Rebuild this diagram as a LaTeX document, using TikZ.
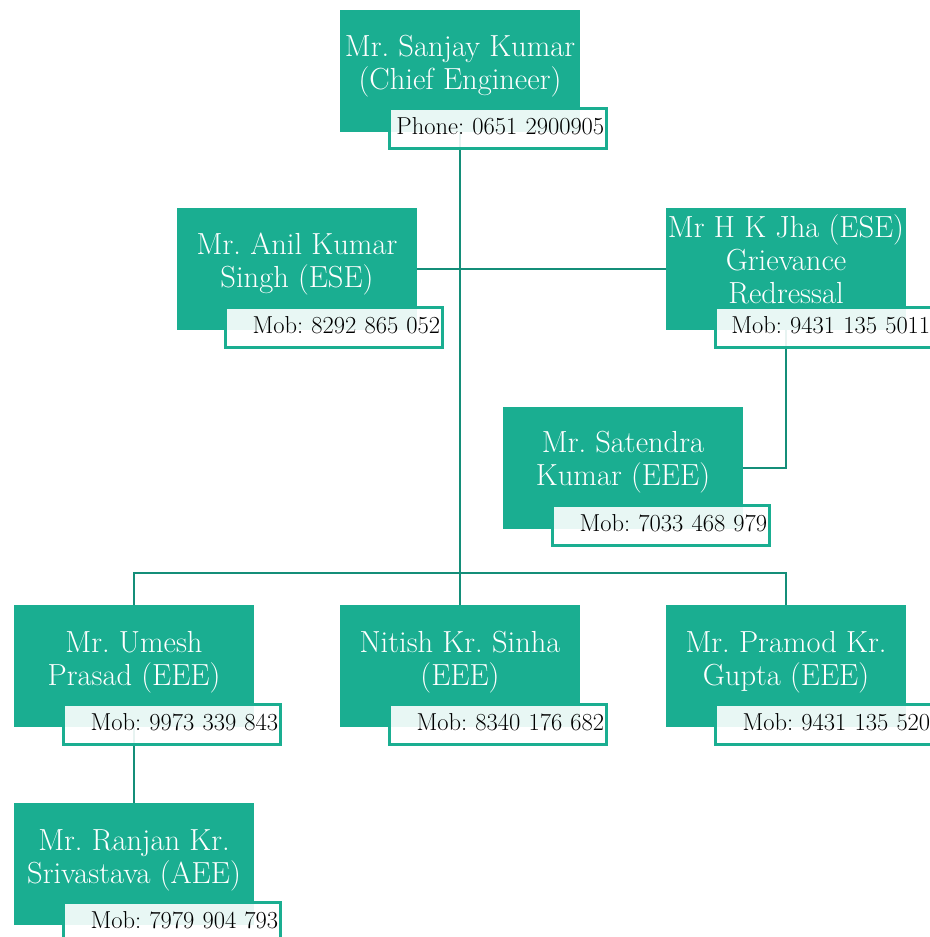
\documentclass[tikz,border=0pt]{standalone}
\definecolor{boxgreen}{HTML}{1AAE91}
\definecolor{linegreen}{HTML}{148E79}
\definecolor{mobedge}{HTML}{1AAE91}
\begin{document}
\frenchspacing
\begin{tikzpicture}[x=1pt,y=-1pt,
 namebox/.style={fill=boxgreen, draw=none, minimum width=240pt, minimum height=122pt, anchor=north west, inner sep=0pt, outer sep=0pt},
 nametext/.style={anchor=base, inner sep=0pt, text=white, font=\fontsize{30.5}{33}\selectfont},
 mobbox/.style={fill=white, fill opacity=0.9, text opacity=1, draw=mobedge, line width=2.5pt, minimum width=217pt, minimum height=40pt, text width=213pt, align=right, inner sep=2pt, text height=18pt, text depth=6pt, anchor=north west, font=\fontsize{24.5}{28}\selectfont},
 conn/.style={draw=linegreen, line width=2.5pt}]
\fill[white] (0,0) rectangle (929,937);
\useasboundingbox (0,0) rectangle (929,937);
% green boxes
\node[namebox] (sk) at (340,10) {};
\node[namebox] (ak) at (177,208) {};
\node[namebox] (jk) at (666,208) {};
\node[namebox] (st) at (503,407) {};
\node[namebox] (uk) at (14,605) {};
\node[namebox] (nk) at (340,605) {};
\node[namebox] (pk) at (666,605) {};
\node[namebox] (rk) at (14,803) {};
% connectors
\coordinate (bus) at (460,573);
\draw[conn] (sk.south) -- (bus);
\draw[conn] (ak.east) -- (jk.west);
\draw[conn] (jk.south) |- (st.east);
\draw[conn] (uk.north) -- (uk.north |- bus) -- (pk.north |- bus) -- (pk.north);
\draw[conn] (bus) -- (nk.north);
\draw[conn] (uk.south) -- (rk.north);
% phone boxes
\node[mobbox] (skm) at (388,107) {Phone: 0651 2900905};
\node[mobbox] (akm) at (224,306) {Mob: 8292 865 052};
\node[mobbox] (jkm) at (714,306) {Mob: 9431 135 5011};
\node[mobbox] (stm) at (551,504) {Mob: 7033 468 979};
\node[mobbox] (ukm) at (62,703) {Mob: 9973 339 843};
\node[mobbox] (nkm) at (388,703) {Mob: 8340 176 682};
\node[mobbox] (pkm) at (714,703) {Mob: 9431 135 520};
\node[mobbox] (rkm) at (62,901) {Mob: 7979 904 793};
% names
\node[nametext, yshift=-46pt] (skt) at (sk.north) {\begin{tabular}[t]{@{}c@{}}Mr. Sanjay Kumar\\(Chief Engineer)\end{tabular}};
\node[nametext, yshift=-46pt] (akt) at (ak.north) {\begin{tabular}[t]{@{}c@{}}Mr. Anil Kumar\\Singh (ESE)\end{tabular}};
\node[nametext, yshift=-29pt] (jkt) at (jk.north) {\begin{tabular}[t]{@{}c@{}}Mr H K Jha (ESE)\\Grievance\\Redressal\end{tabular}};
\node[nametext, yshift=-45pt] (stt) at (st.north) {\begin{tabular}[t]{@{}c@{}}Mr. Satendra\\Kumar (EEE)\end{tabular}};
\node[nametext, yshift=-47pt] (ukt) at (uk.north) {\begin{tabular}[t]{@{}c@{}}Mr. Umesh\\Prasad (EEE)\end{tabular}};
\node[nametext, yshift=-47pt] (nkt) at (nk.north) {\begin{tabular}[t]{@{}c@{}}Nitish Kr. Sinha\\(EEE)\end{tabular}};
\node[nametext, yshift=-47pt] (pkt) at (pk.north) {\begin{tabular}[t]{@{}c@{}}Mr. Pramod Kr.\\Gupta (EEE)\end{tabular}};
\node[nametext, yshift=-47pt] (rkt) at (rk.north) {\begin{tabular}[t]{@{}c@{}}Mr. Ranjan Kr.\\Srivastava (AEE)\end{tabular}};
\end{tikzpicture}
\end{document}
